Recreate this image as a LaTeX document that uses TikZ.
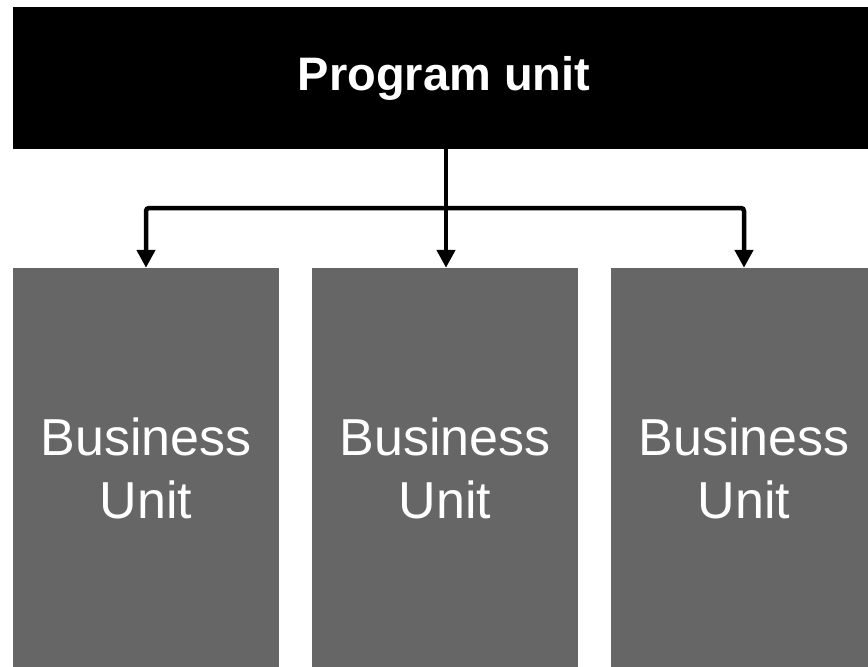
\documentclass[tikz,border=0pt]{standalone}
\usepackage{fontspec}
\setmainfont{Liberation Sans}
\usetikzlibrary{arrows.meta}

\tikzset{
  unit/.style={fill=unitgray, text=white, inner sep=0pt, minimum width=266pt, minimum height=400pt,
    align=center, font=\fontsize{52}{63}\selectfont},
  link/.style={line width=4.5pt, rounded corners=3pt, -{Triangle[width=18pt,length=18pt]}}
}
\definecolor{unitgray}{RGB}{102,102,102}

\begin{document}
\begin{tikzpicture}[x=1pt, y=-1pt]
\clip (0,0) rectangle (868,667);
\node[fill=black, text=white, inner sep=0pt, minimum width=862pt, minimum height=142pt,
  font=\fontsize{47}{56}\selectfont\bfseries] (p) at (444,78) {Program unit};
\node[unit] (1) at (146,468) {Business\\Unit};
\node[unit] (2) at (445,468) {Business\\Unit};
\node[unit] (3) at (744,468) {Business\\Unit};
\coordinate (j) at (446,208);
\draw[link] (p.south -| j) -- (j |- 2.north);
\draw[link] (j) -| (1.north);
\draw[link] (j) -| (3.north);
\end{tikzpicture}
\end{document}
